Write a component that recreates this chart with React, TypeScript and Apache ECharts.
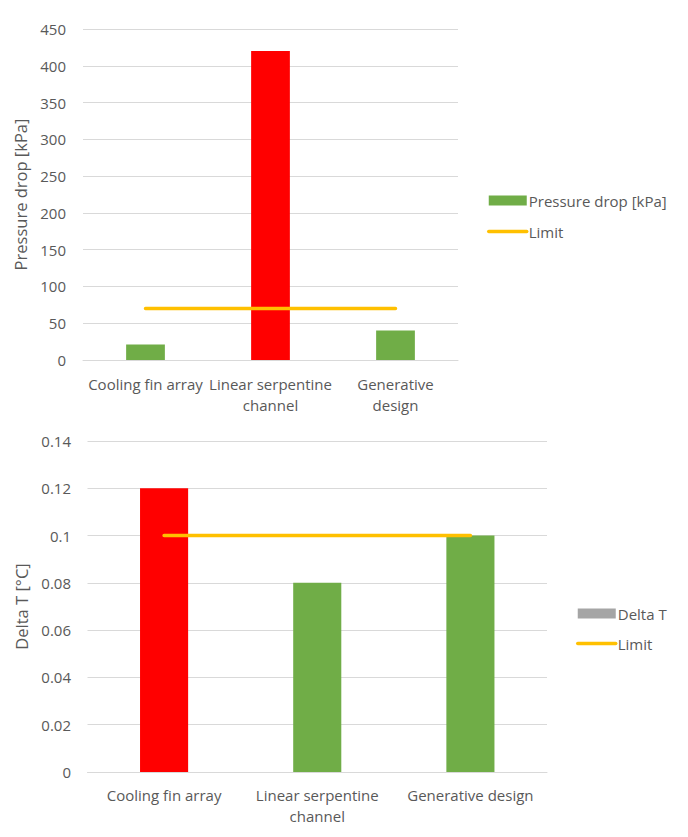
import React, { useEffect, useRef } from "react";
import * as echarts from "echarts";

const topCategories = ["Cooling fin array", "Linear serpentine\nchannel", "Generative\ndesign"];
const pressureDrop = [21, 420, 40];
const pressureLimit = [70, 70, 70];
const pressureTicks = { min: 0, max: 450, interval: 50 };

const bottomCategories = ["Cooling fin array", "Linear serpentine\nchannel", "Generative design"];
const deltaT = [0.12, 0.08, 0.1];
const deltaTLimit = [0.1, 0.1, 0.1];
const deltaTicks = { min: 0, max: 0.14, interval: 0.02 };

const GREEN = "#70ad47";
const RED = "#ff0000";
const GOLD = "#ffc000";
const GREY = "#a5a5a5";
const TEXT = "#595959";
const GRID = "#d9d9d9";
const FONT = "Open Sans";

export default function App() {
  const ref = useRef<HTMLDivElement>(null);
  useEffect(() => {
    if (!ref.current) return;
    const chart = echarts.init(ref.current, undefined, { renderer: "svg" });
    const colorFor = (v: number, lim: number, ok: string) => (v > lim ? RED : ok);
    const xAxisCommon = (cats: string[], margin: number) => ({
      type: "category",
      data: cats,
      axisLine: { show: true, lineStyle: { color: GRID, width: 1 } },
      axisTick: { show: false },
      axisLabel: {
        color: TEXT,
        fontFamily: FONT,
        fontSize: 15,
        lineHeight: 21,
        margin,
        interval: 0,
      },
    });
    const yAxisCommon = (t: { min: number; max: number; interval: number }, name: string, gap: number, margin: number) => ({
      type: "value",
      min: t.min,
      max: t.max,
      interval: t.interval,
      name,
      nameLocation: "middle",
      nameGap: gap,
      nameTextStyle: { color: TEXT, fontFamily: FONT, fontSize: 16.5 },
      axisLine: { show: false },
      axisTick: { show: false },
      axisLabel: { color: TEXT, fontFamily: FONT, fontSize: 15, margin },
      splitLine: { lineStyle: { color: GRID, width: 1 } },
    });
    const legendCommon = {
      orient: "vertical",
      itemWidth: 38,
      itemHeight: 10,
      textStyle: { color: TEXT, fontFamily: FONT, fontSize: 15, padding: [0, 0, 0, -3] },
    };
    const limitLegendItem = {
      name: "Limit",
      itemStyle: { opacity: 0 },
      lineStyle: { color: GOLD, width: 3.5, cap: "round" },
    };
    chart.setOption({
      animation: false,
      textStyle: { fontFamily: FONT },
      grid: [
        { left: 83, right: 230, top: 29, bottom: 477 },
        { left: 87.5, right: 141, top: 441, bottom: 65 },
      ],
      legend: [
        {
          ...legendCommon,
          left: 482,
          top: 188,
          itemGap: 16,
          data: [{ name: "Pressure drop [kPa]", icon: "rect" }, limitLegendItem],
        },
        {
          ...legendCommon,
          left: 571,
          top: 601,
          itemGap: 15,
          data: [{ name: "Delta T", icon: "rect" }, limitLegendItem],
        },
      ],
      xAxis: [
        { ...xAxisCommon(topCategories, 13), gridIndex: 0 },
        { ...xAxisCommon(bottomCategories, 12), gridIndex: 1 },
      ],
      yAxis: [
        { ...yAxisCommon(pressureTicks, "Pressure drop [kPa]", 47, 17), gridIndex: 0 },
        { ...yAxisCommon(deltaTicks, "Delta T [°C]", 54, 16.5), gridIndex: 1 },
      ],
      series: [
        {
          name: "Pressure drop [kPa]",
          type: "bar",
          xAxisIndex: 0,
          yAxisIndex: 0,
          barWidth: "31%",
          itemStyle: { color: GREEN },
          data: pressureDrop.map((v, i) => ({ value: v, itemStyle: { color: colorFor(v, pressureLimit[i], GREEN) } })),
        },
        {
          name: "Limit",
          type: "line",
          xAxisIndex: 0,
          yAxisIndex: 0,
          symbol: "none",
          lineStyle: { color: GOLD, width: 3.5, cap: "round" },
          itemStyle: { color: GOLD },
          data: pressureLimit,
          z: 5,
        },
        {
          name: "Delta T",
          type: "bar",
          xAxisIndex: 1,
          yAxisIndex: 1,
          barWidth: "31.4%",
          itemStyle: { color: GREY },
          data: deltaT.map((v, i) => ({ value: v, itemStyle: { color: colorFor(v, deltaTLimit[i], GREEN) } })),
        },
        {
          name: "Limit",
          type: "line",
          xAxisIndex: 1,
          yAxisIndex: 1,
          symbol: "none",
          lineStyle: { color: GOLD, width: 3.5, cap: "round" },
          itemStyle: { color: GOLD },
          data: deltaTLimit,
          z: 5,
        },
      ],
    });
    return () => chart.dispose();
  }, []);
  return (
    <div
      ref={ref}
      style={{ position: "absolute", left: 0, top: 0, width: 688, height: 837, background: "#ffffff" }}
    />
  );
}
